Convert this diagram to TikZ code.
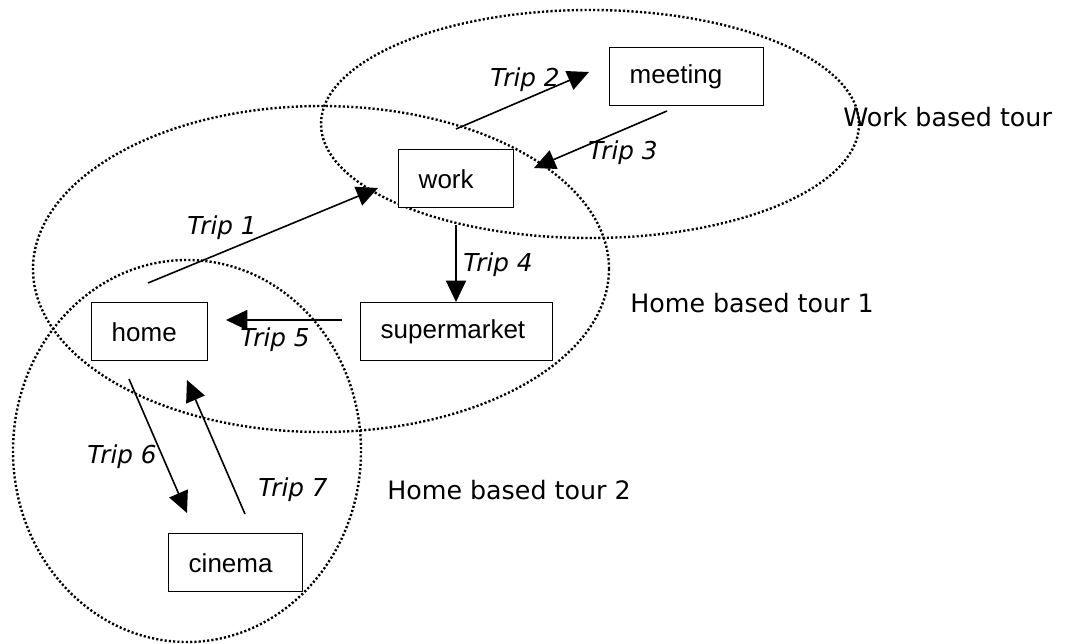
\documentclass[tikz,border=0pt]{standalone}
\usepackage{fontspec}
\setmainfont{Liberation Sans}
\newfontfamily\tourfont{DejaVu Sans}
\usetikzlibrary{arrows.meta,positioning}

\begin{document}
\begin{tikzpicture}[x=0.75pt, y=-0.75pt, every node/.style={inner sep=0pt},
    box/.style={rectangle, draw, fill=white, line width=1.1pt, anchor=north west, inner xsep=15pt,
                minimum height=43.5pt, align=left, font=\fontsize{19.5}{22}\selectfont},
    trip/.style={anchor=west, font=\tourfont\itshape\fontsize{18.5}{21}\selectfont},
    tour/.style={anchor=west, font=\tourfont\fontsize{19}{22}\selectfont},
    ring/.style={line width=1.8pt, dash pattern=on 1.6pt off 1.6pt},
    move/.style={-{Triangle[length=16pt, width=15pt]}, line width=1.2pt}]
            \useasboundingbox (0,0) rectangle (1066,643);

            \draw[ring] (590,124) ellipse [x radius=269, y radius=114];
            \draw[ring] (321,269) ellipse [x radius=288, y radius=163];
            \draw[ring] (187,451) ellipse [x radius=174, y radius=191];

            \node[box, text width=57pt] (home) at (91,302) {home};
            \node[box, text width=114pt] (market) at (360,302) {supermarket};
            \node[box, text width=56.25pt] (work) at (398,149) {work};
            \node[box, text width=85.5pt] (meeting) at (609,47) {meeting};
            \node[box, text width=70.5pt] (cinema) at (168,533) {cinema};

            \coordinate (t1a) at (148,283);  \coordinate (t1b) at (378,188);
            \coordinate (t2a) at (456,129);  \coordinate (t2b) at (589,72);
            \coordinate (t3a) at (667,111);  \coordinate (t3b) at (534,168);
            \coordinate (t4a) at (456,225);  \coordinate (t4b) at (456,302);
            \coordinate (t5a) at (342,320);  \coordinate (t5b) at (226,320);
            \coordinate (t6a) at (129,379);  \coordinate (t6b) at (187,513);
            \coordinate (t7a) at (245,514);  \coordinate (t7b) at (187,380);

            \draw[move] (t1a) -- (t1b);
            \draw[move] (t2a) -- (t2b);
            \draw[move] (t3a) -- (t3b);
            \draw[move] (t4a) -- (t4b);
            \draw[move] (t5a) -- (t5b);
            \draw[move] (t6a) -- (t6b);
            \draw[move] (t7a) -- (t7b);

            \node[trip] (l1) at (187,228) {Trip 1};
            \node[trip] (l2) at (490,80) {Trip 2};
            \node[trip] (l3) at (588,153) {Trip 3};
            \node[trip] (l4) at (463,265) {Trip 4};
            \node[trip] (l5) at (240,340) {Trip 5};
            \node[trip] (l6) at (87,457) {Trip 6};
            \node[trip] (l7) at (258,490) {Trip 7};

            \node[tour] (wbt) at (843,117) {Work based tour};
            \node[tour] (hbt1) at (630,303) {Home based tour 1};
            \node[tour] (hbt2) at (387,490) {Home based tour 2};
          \end{tikzpicture}
\end{document}
